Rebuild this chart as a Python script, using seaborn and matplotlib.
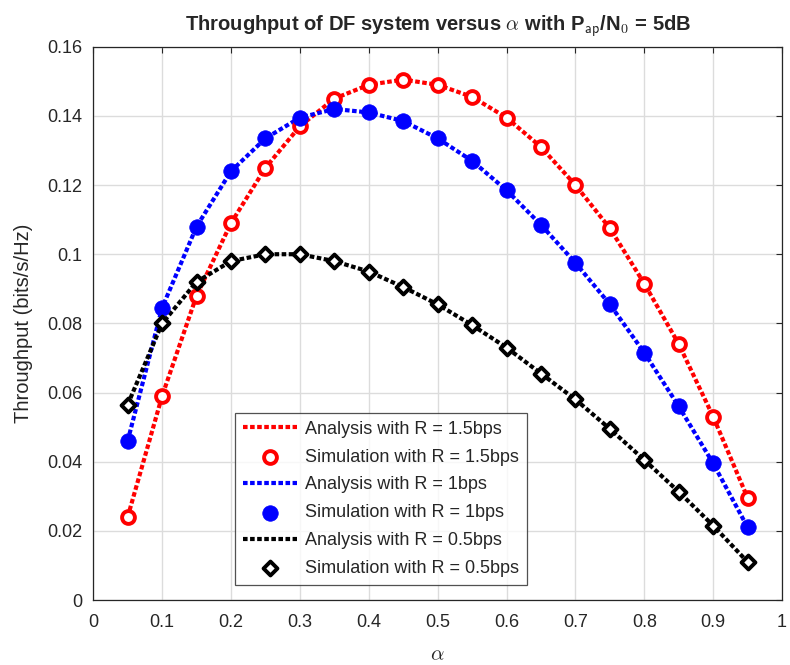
import numpy as np
import pandas as pd
import matplotlib
matplotlib.use("Agg")
import matplotlib.pyplot as plt
from matplotlib.ticker import FormatStrFormatter
import seaborn as sns

# data
alpha = [0.05, 0.1, 0.15, 0.2, 0.25, 0.3, 0.35, 0.4, 0.45, 0.5,
         0.55, 0.6, 0.65, 0.7, 0.75, 0.8, 0.85, 0.9, 0.95]
thr_r15 = [0.024, 0.059, 0.088, 0.109, 0.125, 0.137, 0.145, 0.149, 0.1505, 0.149,
           0.1455, 0.1395, 0.131, 0.120, 0.1075, 0.0915, 0.074, 0.053, 0.0295]
thr_r1 = [0.046, 0.0845, 0.108, 0.124, 0.1335, 0.1395, 0.142, 0.141, 0.1385, 0.1335,
          0.127, 0.1185, 0.1085, 0.0975, 0.0855, 0.0715, 0.056, 0.0395, 0.021]
thr_r05 = [0.0565, 0.080, 0.092, 0.098, 0.100, 0.100, 0.098, 0.095, 0.0905, 0.0855,
           0.0795, 0.073, 0.0655, 0.058, 0.0495, 0.0405, 0.0313, 0.0215, 0.011]

rates = ["1.5", "1", "0.5"]
series = [thr_r15, thr_r1, thr_r05]
colors = ["#ff0000", "#0000ff", "#000000"]

sns.set_theme(style="whitegrid")
plt.rcParams['font.family'] = ['Liberation Sans', 'DejaVu Sans']
plt.rcParams['mathtext.fontset'] = 'cm'

fig = plt.figure(figsize=(7.9, 6.65), dpi=100)
ax = fig.add_axes([0.118, 0.0977, 0.872, 0.832])

for r, y, c in zip(rates, series, colors):
    df = pd.DataFrame({"alpha": alpha, "thr": y})
    sns.lineplot(data=df, x="alpha", y="thr", ax=ax, color=c, lw=3,
                 label=f"Analysis with R = {r}bps")
    ax.lines[-1].set_dashes((1.1, 0.6))
    if r == "1.5":
        sns.scatterplot(data=df, x="alpha", y="thr", ax=ax, marker="o", s=85,
                        facecolor="white", edgecolor=c, linewidth=2.8,
                        label=f"Simulation with R = {r}bps", zorder=5)
    elif r == "1":
        sns.scatterplot(data=df, x="alpha", y="thr", ax=ax, marker="o", s=125,
                        color=c, edgecolor=c, linewidth=0.5,
                        label=f"Simulation with R = {r}bps", zorder=5)
    else:
        sns.scatterplot(data=df, x="alpha", y="thr", ax=ax, marker="D", s=50,
                        facecolor="white", edgecolor=c, linewidth=2.8,
                        label=f"Simulation with R = {r}bps", zorder=5)

ax.set_xlim(0, 1)
ax.set_ylim(0, 0.16)
ax.set_xticks(np.arange(0, 1.01, 0.1))
ax.set_yticks(np.arange(0, 0.161, 0.02))
ax.xaxis.set_major_formatter(FormatStrFormatter('%g'))
ax.yaxis.set_major_formatter(FormatStrFormatter('%g'))
ax.tick_params(direction="in", top=True, right=True, length=4, width=0.8,
               labelsize=13, colors="#262626", pad=8)
ax.tick_params(axis="x", pad=10)
ax.grid(True, color="#dcdcdc", lw=1)
for sp in ax.spines.values():
    sp.set_color("#262626")
    sp.set_linewidth(0.9)

ax.set_xlabel(r"$\alpha$", fontsize=15, color="#262626", labelpad=10)
ax.set_ylabel("Throughput (bits/s/Hz)", fontsize=14.5, color="#262626", labelpad=10)
ax.set_title(r"Throughput of DF system versus $\alpha$ with P$_{\mathsf{ap}}$/N$_{\mathsf{0}}$ = 5dB",
             fontsize=14.5, fontweight="bold", pad=12)

leg = ax.legend(loc="lower left", bbox_to_anchor=(0.206, 0.027), fontsize=13,
                frameon=True, fancybox=False, edgecolor="#262626",
                handlelength=3.0, borderpad=0.45, labelspacing=0.6,
                handletextpad=0.4, borderaxespad=0)
leg.get_frame().set_linewidth(0.9)

fig.savefig("out.png", dpi=100)
